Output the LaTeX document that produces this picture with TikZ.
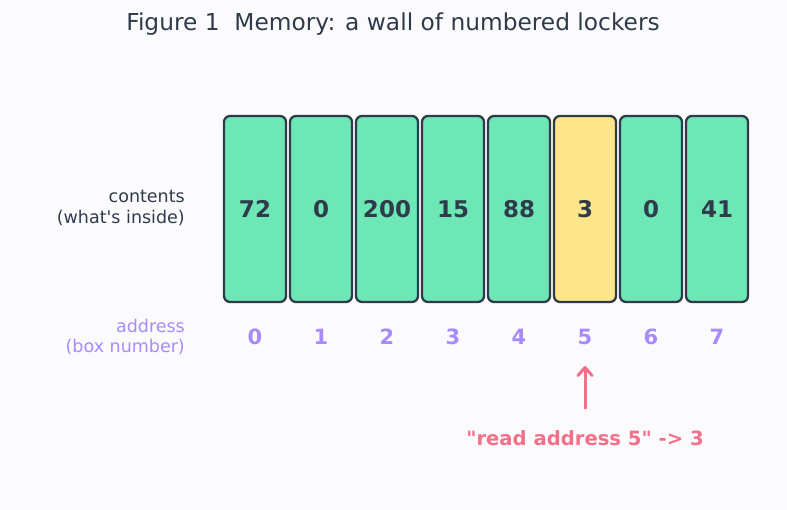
\documentclass[tikz,border=0pt]{standalone}
\usepackage{fontspec}
\setmainfont{DejaVu Sans}[Ligatures=TeXOff]
\usepackage{tikz}
\usetikzlibrary{arrows.meta}

\definecolor{bgcol}{HTML}{FBFBFD}
\definecolor{inkcol}{HTML}{2F3B4B}
\definecolor{greencol}{HTML}{6EE7B7}
\definecolor{yellowcol}{HTML}{FDE68A}
\definecolor{addrcol}{HTML}{A78BFA}
\definecolor{readcol}{HTML}{F47089}

\begin{document}
\begin{tikzpicture}[x=1pt, y=-1pt,
  locker/.style={draw=inkcol, line width=2.3pt, fill=greencol, rounded corners=6pt,
    minimum width=62pt, minimum height=186pt, inner sep=0pt,
    text=inkcol, font=\fontsize{23}{25}\selectfont\bfseries},
  addr/.style={text=addrcol, inner sep=0pt, font=\fontsize{21}{24}\selectfont\bfseries},
  side/.style={align=right, anchor=east, inner sep=0pt, font=\fontsize{17.5}{20.5}\selectfont}]
\fill[bgcol] (0,0) rectangle (787,510);
\useasboundingbox (0,0) rectangle (787,510);

% title
\node (title) at (393,24) [text=inkcol, font=\fontsize{23.3}{26}\selectfont] {Figure 1\ \ Memory: a wall of numbered lockers};

% row labels
\node (contents) at (185,208) [side, text=inkcol] {contents\\(what's inside)};
\node (address) at (185,337) [side, text=addrcol] {address\\(box number)};

% the lockers
\node (box0) at (255,209) [locker] {72};
\node (box1) at (321,209) [locker] {0};
\node (box2) at (387,209) [locker] {200};
\node (box3) at (453,209) [locker] {15};
\node (box4) at (519,209) [locker] {88};
\node (box5) at (585,209) [locker, fill=yellowcol] {3};
\node (box6) at (651,209) [locker] {0};
\node (box7) at (717,209) [locker] {41};

% addresses
\node (addr0) at (255,337) [addr] {0};
\node (addr1) at (321,337) [addr] {1};
\node (addr2) at (387,337) [addr] {2};
\node (addr3) at (453,337) [addr] {3};
\node (addr4) at (519,337) [addr] {4};
\node (addr5) at (585,337) [addr] {5};
\node (addr6) at (651,337) [addr] {6};
\node (addr7) at (717,337) [addr] {7};

% reading one locker
\node (msg) at (585,438) [text=readcol, inner sep=0pt, font=\fontsize{19.6}{22}\selectfont\bfseries] {"read address 5" -> 3};
\draw [readcol, line width=3pt, -{Straight Barb[length=8pt,width=14pt,line cap=round,line join=round]}, shorten <=21pt, shorten >=21pt] (msg.north) -- (addr5.south);
\end{tikzpicture}
\end{document}
